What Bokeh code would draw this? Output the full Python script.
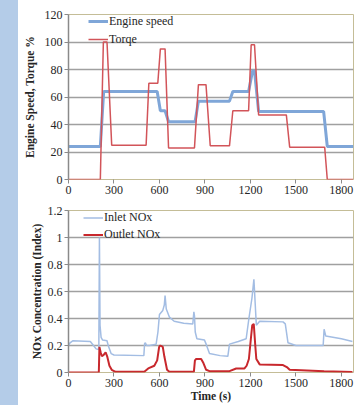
from bokeh.plotting import figure
from bokeh.models import Range1d, FixedTicker, Title, Div
from bokeh.layouts import row, column
from bokeh.embed import file_html
from bokeh.resources import INLINE

# ---------------- data ----------------
x_ticks = [0, 300, 600, 900, 1200, 1500, 1800]
top_y_ticks = [0, 20, 40, 60, 80, 100, 120]
bot_y_ticks = [0, 0.2, 0.4, 0.6, 0.8, 1.0, 1.2]
bot_y_labels = ["0", "0.2", "0.4", "0.6", "0.8", "1", "1.2"]

speed_t = [0, 210, 232, 585, 606, 637, 660, 835, 857, 1062, 1084, 1188, 1214, 1227, 1254, 1683, 1707, 1880]
speed_v = [24, 24, 64, 64, 50, 50, 42, 42, 57, 57, 64, 64, 79, 79, 49.5, 49.5, 24, 24]

torque_t = [0, 210, 230, 254, 285, 512, 530, 589, 606, 637, 660, 831, 857, 907, 935,
            1062, 1084, 1188, 1205, 1227, 1254, 1437, 1459, 1690, 1707, 1880]
torque_v = [0, 0, 100, 100, 25, 25, 70, 70, 95, 95, 23, 23, 69, 69, 24.5,
            24.5, 50, 50, 98, 98, 47, 47, 23.5, 23.5, 0, 0]

inlet_t = [0, 10, 28, 144, 165, 182, 200, 204, 208, 215, 225, 254, 262, 281, 300,
           497, 502, 507, 515, 534, 578, 590, 600, 622, 632, 637, 645, 666, 697, 760,
           820, 827, 831, 836, 847, 897, 908, 930, 1000, 1051, 1062, 1120, 1172, 1190,
           1210, 1223, 1232, 1239, 1261, 1415, 1430, 1448, 1500, 1675, 1680, 1686, 1697,
           1800, 1873]
inlet_v = [0.20, 0.22, 0.235, 0.23, 0.20, 0.175, 0.17, 1.0, 0.35, 0.26, 0.24, 0.235, 0.20, 0.14, 0.13,
           0.125, 0.215, 0.22, 0.20, 0.20, 0.21, 0.30, 0.43, 0.46, 0.50, 0.57, 0.47, 0.41, 0.38, 0.365,
           0.36, 0.45, 0.42, 0.30, 0.25, 0.24, 0.21, 0.14, 0.125, 0.12, 0.21, 0.23, 0.25, 0.40,
           0.55, 0.69, 0.50, 0.35, 0.38, 0.375, 0.36, 0.22, 0.20, 0.20, 0.20, 0.32, 0.27,
           0.25, 0.23]

outlet_t = [0, 200, 204, 212, 220, 232, 245, 255, 270, 285, 310, 500, 526, 566, 585, 598, 606,
            622, 632, 650, 665, 827, 834, 842, 875, 890, 908, 930, 1062, 1106, 1161, 1175, 1190,
            1203, 1212, 1222, 1232, 1239, 1261, 1415, 1440, 1459, 1686, 1873]
outlet_v = [0, 0, 0.19, 0.15, 0.12, 0.13, 0.15, 0.12, 0.05, 0.02, 0.005, 0.005, 0.03, 0.05, 0.09, 0.19, 0.20,
            0.19, 0.12, 0.02, 0.005, 0.005, 0.09, 0.10, 0.10, 0.07, 0.02, 0.01, 0.01, 0.03, 0.03, 0.05, 0.10,
            0.25, 0.35, 0.36, 0.20, 0.10, 0.06, 0.055, 0.04, 0.02, 0.01, 0.003]

# ---------------- style ----------------
FONT = "Liberation Serif"
TXT = "#262626"
GRID = "#a0a0a0"
AXIS = "#8a8a8a"
OUTLINE = "#c4bd97"
STRIP = "#b4cce8"

STRIP_W = 18
W = 337
X_MAX = 1880
H1, T1, B1 = 200, 14, 21
H2, T2, B2 = 205, 10, 33


def base_fig(height, top_border, bottom_border, y_max, y_ticks):
    p = figure(width=W, height=height, output_backend="svg", toolbar_location=None,
               x_range=Range1d(0, X_MAX), y_range=Range1d(0, y_max),
               min_border_left=50, min_border_right=2,
               min_border_top=top_border, min_border_bottom=bottom_border,
               background_fill_color="white", border_fill_color="white")
    p.outline_line_color = OUTLINE
    p.outline_line_width = 1
    p.xaxis.ticker = FixedTicker(ticks=x_ticks)
    p.yaxis.ticker = FixedTicker(ticks=y_ticks)
    for ax in (p.xaxis, p.yaxis):
        ax.axis_line_color = AXIS
        ax.axis_line_width = 1.5
        ax.major_tick_line_color = AXIS
        ax.major_tick_in = 0
        ax.major_tick_out = 4
        ax.minor_tick_line_color = None
        ax.major_label_text_font = FONT
        ax.major_label_text_font_size = "12px"
        ax.major_label_text_color = TXT
        ax.major_label_standoff = 2
        ax.axis_label_text_font = FONT
        ax.axis_label_text_font_style = "bold"
        ax.axis_label_text_color = TXT
    # bottom axis line drawn by the 0 grid line (beneath the data lines)
    p.xaxis.axis_line_color = None
    p.xgrid.grid_line_color = None
    p.ygrid.grid_line_color = GRID
    p.ygrid.grid_line_width = 1.3
    return p


# top chart
p1 = base_fig(H1, T1, B1, 120, top_y_ticks)
p1.line(speed_t, speed_v, line_color="#7fa6d8", line_width=3, legend_label="Engine speed")
p1.line(torque_t, torque_v, line_color="#d25459", line_width=1.5, legend_label="Torqe")
p1.yaxis.axis_label = "Engine Speed, Torque %"
p1.yaxis.axis_label_text_font_size = "11.5px"
p1.yaxis.axis_label_standoff = 6

# bottom chart
p2 = base_fig(H2, T2, B2, 1.2, bot_y_ticks)
p2.yaxis.major_label_overrides = {t: s for t, s in zip(bot_y_ticks, bot_y_labels)}
p2.line(inlet_t, inlet_v, line_color="#a3bde3", line_width=1.5, legend_label="Inlet NOx")
p2.line(outlet_t, outlet_v, line_color="#c8282d", line_width=2, legend_label="Outlet NOx")
p2.add_layout(Title(text="NOx Concentration (Index)", align="center", offset=-26,
                    text_font=FONT, text_font_size="11.5px", text_font_style="bold",
                    text_color=TXT, standoff=4), "left")
p2.xaxis.axis_label = "Time (s)"
p2.xaxis.axis_label_text_font_size = "11.5px"
p2.xaxis.axis_label_standoff = 0

for p, gh in ((p1, 18), (p2, 17)):
    lg = p.legend[0]
    lg.background_fill_alpha = 0
    lg.border_line_color = None
    lg.border_line_alpha = 0
    lg.padding = 0
    lg.margin = 0
    lg.spacing = 0
    lg.label_height = gh
    lg.glyph_height = gh
    lg.glyph_width = 20
    lg.label_standoff = 1
    lg.label_text_font = FONT
    lg.label_text_font_size = "12px"
    lg.label_text_color = TXT

fh1 = H1 - T1 - B1
fh2 = H2 - T2 - B2
p1.legend[0].location = (20, fh1 - 34)
p2.legend[0].location = (15, fh2 - 33)

strip = Div(width=STRIP_W, height=H1 + H2, margin=0, styles={"background-color": STRIP})
layout = row(strip, column(p1, p2, spacing=0), spacing=0)

open("out.html", "w").write(file_html(layout, INLINE))
